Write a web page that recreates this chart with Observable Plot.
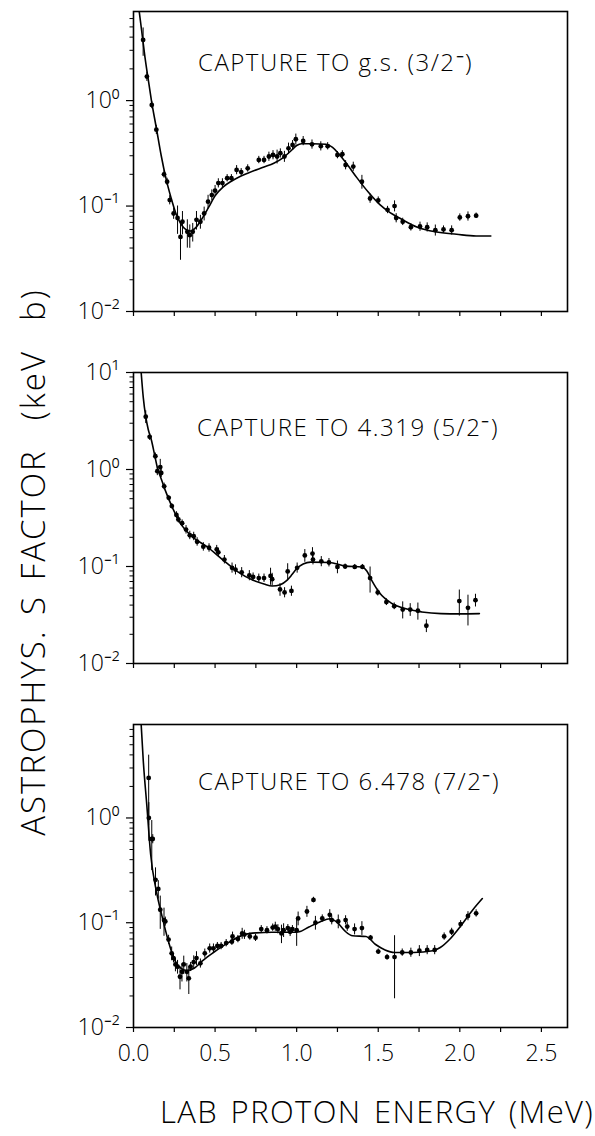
<!DOCTYPE html>
<html><head><meta charset="utf-8">
<script src="https://cdn.jsdelivr.net/npm/d3@7"></script>
<script src="https://cdn.jsdelivr.net/npm/@observablehq/plot@0.6"></script>
<style>
body{margin:0;background:#fff;}
#wrap{position:relative;width:595px;height:1136px;font-family:"Open Sans","DejaVu Sans",sans-serif;color:#000;overflow:hidden;}
.panel{position:absolute;left:0;}
.lab{position:absolute;white-space:pre;line-height:1;font-weight:300;}
</style></head><body><div id="wrap"></div>
<script>
// ---------- shared axis data ----------
const xTickVals = [0,0.25,0.5,0.75,1,1.25,1.5,1.75,2,2.25,2.5];
const xLabelVals = [0,0.5,1,1.5,2,2.5];
const xLabels = ["0.0","0.5","1.0","1.5","2.0","2.5"];
const yMajorVals = [0.01,0.1,1,10];
const yMajorLabels = ["10\u207B\u00B2","10\u207B\u00B9","10\u2070","10\u00B9"];
const titles = ["CAPTURE TO g.s. (3/2\u207B)","CAPTURE TO 4.319 (5/2\u207B)","CAPTURE TO 6.478 (7/2\u207B)"];
const xTitle = "LAB PROTON ENERGY (MeV)";
const yTitle = "ASTROPHYS. S FACTOR  (keV  b)";

// ---------- panel 1: g.s. ----------
const gsE   = [0.059,0.082,0.112,0.14,0.187,0.206,0.222,0.246,0.27,0.288,0.30,0.33,0.345,0.363,0.386,0.41,0.433,0.457,0.48,0.50,0.52,0.545,0.574,0.60,0.632,0.66,0.70,0.768,0.80,0.83,0.855,0.88,0.90,0.925,0.95,0.975,0.995,1.04,1.094,1.148,1.19,1.25,1.28,1.30,1.347,1.40,1.45,1.50,1.557,1.60,1.61,1.65,1.70,1.756,1.80,1.85,1.90,1.95,2.0,2.05,2.10];
const gsS   = [3.76,1.69,0.91,0.53,0.20,0.17,0.114,0.085,0.077,0.051,0.071,0.057,0.053,0.057,0.074,0.071,0.085,0.11,0.127,0.14,0.165,0.165,0.184,0.184,0.22,0.21,0.228,0.274,0.274,0.295,0.305,0.295,0.317,0.295,0.353,0.38,0.43,0.415,0.385,0.37,0.37,0.305,0.31,0.245,0.237,0.17,0.118,0.113,0.092,0.10,0.077,0.071,0.063,0.064,0.063,0.059,0.06,0.059,0.078,0.08,0.081];
const gsErr = [0.3,0.1,0.08,0.1,0.08,0.08,0.1,0.12,0.3,0.4,0.25,0.3,0.25,0.2,0.2,0.15,0.15,0.15,0.12,0.12,0.1,0.1,0.08,0.08,0.1,0.08,0.08,0.08,0.08,0.1,0.1,0.15,0.1,0.12,0.12,0.1,0.12,0.1,0.1,0.1,0.08,0.08,0.08,0.1,0.1,0.15,0.1,0.08,0.08,0.12,0.1,0.08,0.08,0.1,0.1,0.12,0.08,0.1,0.08,0.1,0.06];
const gsFitE = [0.035,0.05,0.07,0.09,0.11,0.14,0.17,0.20,0.23,0.26,0.29,0.32,0.35,0.38,0.42,0.46,0.50,0.55,0.60,0.65,0.70,0.80,0.86,0.92,0.97,1.0,1.03,1.10,1.18,1.22,1.26,1.30,1.37,1.44,1.51,1.57,1.63,1.74,1.85,1.98,2.10,2.19];
const gsFitS = [7.0,4.6,2.6,1.6,1.0,0.55,0.30,0.18,0.12,0.085,0.068,0.060,0.058,0.062,0.076,0.097,0.125,0.152,0.172,0.19,0.205,0.235,0.255,0.29,0.34,0.375,0.39,0.39,0.385,0.36,0.31,0.26,0.185,0.135,0.103,0.087,0.077,0.063,0.057,0.054,0.052,0.052];

// ---------- panel 2: 4.319 ----------
const e4E   = [0.075,0.099,0.134,0.146,0.164,0.17,0.188,0.216,0.235,0.263,0.275,0.298,0.322,0.345,0.369,0.39,0.428,0.463,0.51,0.52,0.557,0.604,0.625,0.663,0.71,0.733,0.768,0.80,0.84,0.85,0.898,0.926,0.945,0.968,1.003,1.05,1.097,1.10,1.151,1.198,1.25,1.297,1.356,1.403,1.45,1.497,1.55,1.598,1.65,1.696,1.743,1.795,1.997,2.05,2.096];
const e4S   = [3.5,2.17,1.37,0.96,1.06,0.92,0.67,0.51,0.42,0.34,0.305,0.28,0.24,0.21,0.205,0.18,0.16,0.156,0.15,0.14,0.118,0.097,0.093,0.087,0.081,0.078,0.076,0.076,0.08,0.074,0.058,0.054,0.089,0.056,0.097,0.13,0.136,0.118,0.113,0.11,0.099,0.10,0.099,0.099,0.076,0.054,0.043,0.039,0.036,0.036,0.035,0.0245,0.044,0.0375,0.045];
const e4Err = [0.15,0.08,0.08,0.1,0.2,0.1,0.08,0.06,0.06,0.08,0.08,0.08,0.1,0.1,0.1,0.1,0.1,0.1,0.1,0.1,0.1,0.12,0.12,0.12,0.12,0.1,0.1,0.1,0.2,0.15,0.15,0.12,0.2,0.12,0.12,0.15,0.15,0.12,0.12,0.1,0.15,0.06,0.06,0.06,0.3,0.08,0.08,0.08,0.2,0.15,0.2,0.15,0.3,0.35,0.15];
const e4FitE = [0.047,0.06,0.075,0.09,0.11,0.13,0.146,0.17,0.193,0.24,0.287,0.357,0.45,0.545,0.64,0.733,0.80,0.85,0.90,0.94,0.97,1.00,1.04,1.086,1.20,1.30,1.40,1.43,1.46,1.51,1.58,1.67,1.767,1.885,2.0,2.12];
const e4FitS = [10,5.5,3.5,2.6,2.0,1.4,1.05,0.8,0.62,0.40,0.28,0.205,0.16,0.118,0.088,0.072,0.066,0.063,0.065,0.072,0.082,0.095,0.106,0.111,0.11,0.101,0.099,0.09,0.072,0.053,0.042,0.0366,0.034,0.0327,0.0325,0.0327];

// ---------- panel 3: 6.478 ----------
const e6E   = [0.093,0.094,0.112,0.118,0.135,0.152,0.164,0.187,0.195,0.215,0.234,0.245,0.257,0.27,0.285,0.297,0.308,0.327,0.339,0.35,0.369,0.386,0.41,0.437,0.467,0.49,0.514,0.537,0.568,0.603,0.607,0.64,0.666,0.68,0.713,0.748,0.783,0.818,0.853,0.869,0.885,0.907,0.92,0.946,0.96,0.974,1.0,1.009,1.063,1.103,1.115,1.157,1.203,1.215,1.255,1.30,1.31,1.355,1.40,1.453,1.50,1.554,1.60,1.647,1.70,1.752,1.80,1.846,1.904,1.95,2.005,2.05,2.10];
const e6S   = [2.41,1.0,0.63,0.63,0.257,0.21,0.133,0.106,0.103,0.069,0.051,0.046,0.04,0.038,0.0305,0.034,0.04,0.034,0.0295,0.038,0.042,0.046,0.041,0.051,0.057,0.057,0.06,0.06,0.064,0.066,0.074,0.07,0.079,0.077,0.074,0.072,0.087,0.085,0.09,0.092,0.087,0.079,0.085,0.089,0.082,0.087,0.085,0.11,0.128,0.165,0.10,0.11,0.119,0.106,0.103,0.106,0.092,0.087,0.089,0.072,0.053,0.047,0.047,0.052,0.052,0.054,0.055,0.055,0.074,0.082,0.097,0.116,0.123];
const e6Err = [0.65,0.4,0.5,0.1,0.3,0.2,0.35,0.3,0.1,0.1,0.15,0.1,0.15,0.15,0.25,0.2,0.2,0.2,0.3,0.1,0.15,0.15,0.1,0.1,0.1,0.1,0.08,0.08,0.08,0.08,0.1,0.08,0.12,0.1,0.08,0.08,0.08,0.08,0.08,0.1,0.1,0.2,0.15,0.08,0.1,0.08,0.3,0.15,0.12,0.06,0.15,0.08,0.12,0.1,0.15,0.1,0.1,0.12,0.15,0.05,0.06,0.06,0.6,0.08,0.1,0.12,0.1,0.1,0.08,0.08,0.08,0.1,0.08];
const e6FitE = [0.047,0.06,0.082,0.105,0.14,0.175,0.21,0.245,0.28,0.327,0.374,0.42,0.49,0.584,0.678,0.75,0.85,0.98,1.016,1.075,1.145,1.203,1.25,1.297,1.343,1.425,1.484,1.542,1.6,1.717,1.834,1.88,1.94,2.01,2.08,2.138];
const e6FitS = [7.8,3.5,1.3,0.45,0.2,0.115,0.07,0.047,0.038,0.035,0.037,0.043,0.052,0.065,0.077,0.08,0.081,0.081,0.082,0.091,0.102,0.109,0.1,0.083,0.075,0.074,0.062,0.055,0.052,0.052,0.054,0.058,0.07,0.095,0.133,0.17];

const FONT = '"Open Sans","DejaVu Sans",sans-serif';
const wrap = document.getElementById("wrap");

function panel(cfg){
  const pts = cfg.E.map((e,i)=>({E:e,S:cfg.S[i],lo:cfg.S[i]*(1-cfg.err[i]),hi:cfg.S[i]*(1+cfg.err[i])}));
  const fit = cfg.fE.map((e,i)=>({E:e,S:cfg.fS[i]}));
  const [y0,y1] = cfg.yDomain;
  const minor = [];
  for (let d=-2; d<=1; d++) for (let k=2;k<=9;k++){ const v=k*Math.pow(10,d); if (v>y0*1.0001 && v<y1*0.9999) minor.push(v); }
  const majors = yMajorVals.filter(v=>v>=y0*0.999 && v<=y1*1.001);
  const marks = [
    Plot.ruleX(pts,{x:"E",y1:"lo",y2:"hi",stroke:"#000",strokeWidth:1,clip:true}),
    Plot.dot(pts,{x:"E",y:"S",r:2.4,fill:"#000",stroke:null,clip:true}),
    Plot.line(fit,{x:"E",y:"S",stroke:"#000",strokeWidth:1.6,curve:"monotone-x",clip:true}),
    Plot.axisX({ticks:xTickVals,tickSize:5,tickFormat:()=>"",label:null,strokeWidth:1.2}),
    Plot.axisY({ticks:minor,tickSize:3.5,tickFormat:()=>"",label:null,strokeWidth:1}),
    Plot.axisY({ticks:majors,tickSize:7,tickPadding:7,label:null,strokeWidth:1.2,
      tickFormat:d=>yMajorLabels[yMajorVals.indexOf(d)],fontSize:23}),
    Plot.frame({stroke:"#000",strokeWidth:1.6})
  ];
  if (cfg.showX) marks.push(Plot.axisX({ticks:xLabelVals,tickSize:0,tickPadding:17,label:null,
      tickFormat:d=>xLabels[xLabelVals.indexOf(d)],fontSize:23}));
  const svg = Plot.plot({
    width:595,height:cfg.height,marginLeft:133,marginRight:28,marginTop:cfg.mt,marginBottom:cfg.mb,
    style:{fontFamily:FONT,fontSize:"23px",fontWeight:300,color:"#000",background:"transparent",overflow:"visible"},
    x:{domain:[0,2.66]},
    y:{type:"log",domain:cfg.yDomain},
    marks
  });
  svg.classList.add("panel");
  svg.style.top = cfg.top+"px";
  wrap.appendChild(svg);
}

panel({E:gsE,S:gsS,err:gsErr,fE:gsFitE,fS:gsFitS,yDomain:[0.01,7.0],top:0,height:330,mt:11,mb:19});
panel({E:e4E,S:e4S,err:e4Err,fE:e4FitE,fS:e4FitS,yDomain:[0.01,10],top:340,height:340,mt:32,mb:17});
panel({E:e6E,S:e6S,err:e6Err,fE:e6FitE,fS:e6FitS,yDomain:[0.01,7.8],top:690,height:387,mt:34,mb:50,showX:true});

function label(text,left,top,size,extra){
  const d=document.createElement("div");
  d.className="lab"; d.textContent=text;
  d.style.left=left+"px"; d.style.top=top+"px"; d.style.fontSize=size+"px";
  if (extra) Object.assign(d.style,extra);
  wrap.appendChild(d);
}
label(titles[0],198,50,24,{letterSpacing:"1.5px"});
label(titles[1],197,415,24,{letterSpacing:"1.5px"});
label(titles[2],198,769,24,{letterSpacing:"1.5px"});
label(xTitle,160,1096,31,{letterSpacing:"1.4px",wordSpacing:"3px"});
label(yTitle,32,562,33,{transform:"translate(-50%,-50%) rotate(-90deg)",letterSpacing:"2px",wordSpacing:"4px"});
</script></body></html>
